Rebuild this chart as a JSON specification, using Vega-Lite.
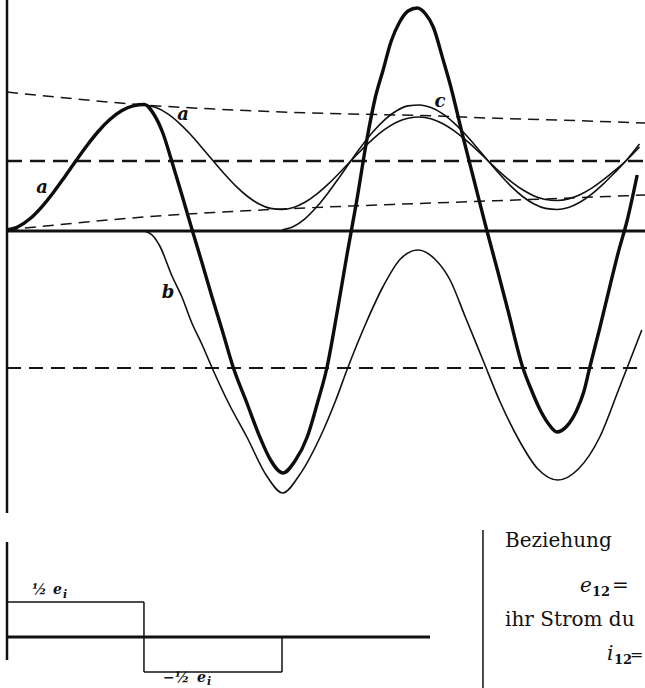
{
  "$schema": "https://vega.github.io/schema/vega-lite/v6.json",
  "width": 645,
  "height": 688,
  "padding": 0,
  "autosize": {"type": "none"},
  "background": "white",
  "config": {"view": {"stroke": null}},
  "datasets": {
    "curves": [
      {"s": "thick", "t": 0, "v": 1}, {"s": "thick", "t": 15, "v": 4.5}, {"s": "thick", "t": 30, "v": 12.2}, {"s": "thick", "t": 45, "v": 23.7},
      {"s": "thick", "t": 60, "v": 37.8}, {"s": "thick", "t": 75, "v": 53.6}, {"s": "thick", "t": 90, "v": 70}, {"s": "thick", "t": 105, "v": 85.8},
      {"s": "thick", "t": 120, "v": 100}, {"s": "thick", "t": 135, "v": 111.7}, {"s": "thick", "t": 150, "v": 120.2}, {"s": "thick", "t": 165, "v": 125.1},
      {"s": "thick", "t": 180, "v": 126.5}, {"s": "thick", "t": 192, "v": 117}, {"s": "thick", "t": 204, "v": 98}, {"s": "thick", "t": 216, "v": 69},
      {"s": "thick", "t": 229, "v": 36}, {"s": "thick", "t": 242, "v": 2}, {"s": "thick", "t": 255, "v": -31}, {"s": "thick", "t": 268, "v": -65},
      {"s": "thick", "t": 282, "v": -100}, {"s": "thick", "t": 296, "v": -136}, {"s": "thick", "t": 314, "v": -172}, {"s": "thick", "t": 331, "v": -206},
      {"s": "thick", "t": 345, "v": -229}, {"s": "thick", "t": 361, "v": -242}, {"s": "thick", "t": 377, "v": -230}, {"s": "thick", "t": 393, "v": -206},
      {"s": "thick", "t": 406, "v": -173}, {"s": "thick", "t": 419, "v": -136}, {"s": "thick", "t": 432, "v": -82}, {"s": "thick", "t": 445, "v": -24},
      {"s": "thick", "t": 458, "v": 31}, {"s": "thick", "t": 471, "v": 91}, {"s": "thick", "t": 482, "v": 133}, {"s": "thick", "t": 492, "v": 160},
      {"s": "thick", "t": 503, "v": 190}, {"s": "thick", "t": 514, "v": 209}, {"s": "thick", "t": 525, "v": 220}, {"s": "thick", "t": 537, "v": 223},
      {"s": "thick", "t": 548, "v": 217}, {"s": "thick", "t": 558, "v": 204}, {"s": "thick", "t": 571, "v": 171}, {"s": "thick", "t": 580, "v": 147},
      {"s": "thick", "t": 597, "v": 94}, {"s": "thick", "t": 612, "v": 49}, {"s": "thick", "t": 628, "v": 1}, {"s": "thick", "t": 642, "v": -39},
      {"s": "thick", "t": 656, "v": -80}, {"s": "thick", "t": 675, "v": -136}, {"s": "thick", "t": 687, "v": -160}, {"s": "thick", "t": 698, "v": -179},
      {"s": "thick", "t": 709, "v": -193}, {"s": "thick", "t": 720, "v": -201}, {"s": "thick", "t": 733, "v": -195}, {"s": "thick", "t": 746, "v": -179},
      {"s": "thick", "t": 755, "v": -161}, {"s": "thick", "t": 763, "v": -136}, {"s": "thick", "t": 776, "v": -97}, {"s": "thick", "t": 789, "v": -56},
      {"s": "thick", "t": 800, "v": -22}, {"s": "thick", "t": 812, "v": 11}, {"s": "thick", "t": 825, "v": 56},

      {"s": "a", "t": 165, "v": 125.1}, {"s": "a", "t": 180, "v": 126}, {"s": "a", "t": 195, "v": 123.4}, {"s": "a", "t": 210, "v": 117.4},
      {"s": "a", "t": 225, "v": 108.2}, {"s": "a", "t": 240, "v": 96.7}, {"s": "a", "t": 255, "v": 83.6}, {"s": "a", "t": 270, "v": 70},
      {"s": "a", "t": 285, "v": 56.7}, {"s": "a", "t": 300, "v": 44.6}, {"s": "a", "t": 315, "v": 34.5}, {"s": "a", "t": 330, "v": 27},
      {"s": "a", "t": 345, "v": 22.6}, {"s": "a", "t": 360, "v": 21.5}, {"s": "a", "t": 375, "v": 23.5}, {"s": "a", "t": 390, "v": 28.7},
      {"s": "a", "t": 405, "v": 36.6}, {"s": "a", "t": 420, "v": 46.6}, {"s": "a", "t": 435, "v": 58}, {"s": "a", "t": 450, "v": 70},
      {"s": "a", "t": 465, "v": 81.8}, {"s": "a", "t": 480, "v": 92.7}, {"s": "a", "t": 495, "v": 101.8}, {"s": "a", "t": 510, "v": 108.7},
      {"s": "a", "t": 525, "v": 112.8}, {"s": "a", "t": 540, "v": 114}, {"s": "a", "t": 555, "v": 112.2}, {"s": "a", "t": 570, "v": 107.5},
      {"s": "a", "t": 585, "v": 100.4}, {"s": "a", "t": 600, "v": 91.3}, {"s": "a", "t": 615, "v": 81}, {"s": "a", "t": 630, "v": 70},
      {"s": "a", "t": 645, "v": 59.2}, {"s": "a", "t": 660, "v": 49.4}, {"s": "a", "t": 675, "v": 41.2}, {"s": "a", "t": 690, "v": 35.1},
      {"s": "a", "t": 705, "v": 31.5}, {"s": "a", "t": 720, "v": 30.5}, {"s": "a", "t": 735, "v": 32.1}, {"s": "a", "t": 750, "v": 36.3},
      {"s": "a", "t": 765, "v": 42.6}, {"s": "a", "t": 780, "v": 50.8}, {"s": "a", "t": 795, "v": 60.1}, {"s": "a", "t": 810, "v": 70},
      {"s": "a", "t": 828, "v": 84},

      {"s": "c", "t": 360, "v": 1}, {"s": "c", "t": 375, "v": 4.5}, {"s": "c", "t": 390, "v": 12.2}, {"s": "c", "t": 405, "v": 23.7},
      {"s": "c", "t": 420, "v": 37.8}, {"s": "c", "t": 435, "v": 53.6}, {"s": "c", "t": 450, "v": 70}, {"s": "c", "t": 465, "v": 85.8},
      {"s": "c", "t": 480, "v": 100}, {"s": "c", "t": 495, "v": 111.7}, {"s": "c", "t": 510, "v": 120.2}, {"s": "c", "t": 525, "v": 125.1},
      {"s": "c", "t": 540, "v": 126}, {"s": "c", "t": 555, "v": 123.4}, {"s": "c", "t": 570, "v": 117.4}, {"s": "c", "t": 585, "v": 108.2},
      {"s": "c", "t": 600, "v": 96.7}, {"s": "c", "t": 615, "v": 83.6}, {"s": "c", "t": 630, "v": 70}, {"s": "c", "t": 645, "v": 56.7},
      {"s": "c", "t": 660, "v": 44.6}, {"s": "c", "t": 675, "v": 34.5}, {"s": "c", "t": 690, "v": 27}, {"s": "c", "t": 705, "v": 22.6},
      {"s": "c", "t": 720, "v": 21.5}, {"s": "c", "t": 735, "v": 23.5}, {"s": "c", "t": 750, "v": 28.7}, {"s": "c", "t": 765, "v": 36.6},
      {"s": "c", "t": 780, "v": 46.6}, {"s": "c", "t": 795, "v": 58}, {"s": "c", "t": 810, "v": 70}, {"s": "c", "t": 828, "v": 87},

      {"s": "b", "t": 180, "v": 0}, {"s": "b", "t": 190, "v": -4}, {"s": "b", "t": 200, "v": -15}, {"s": "b", "t": 216, "v": -45},
      {"s": "b", "t": 229, "v": -66}, {"s": "b", "t": 242, "v": -92}, {"s": "b", "t": 255, "v": -113}, {"s": "b", "t": 268, "v": -136},
      {"s": "b", "t": 290, "v": -172}, {"s": "b", "t": 314, "v": -206}, {"s": "b", "t": 340, "v": -245}, {"s": "b", "t": 361, "v": -262},
      {"s": "b", "t": 382, "v": -245}, {"s": "b", "t": 410, "v": -206}, {"s": "b", "t": 430, "v": -170}, {"s": "b", "t": 446, "v": -137},
      {"s": "b", "t": 470, "v": -92}, {"s": "b", "t": 492, "v": -56}, {"s": "b", "t": 515, "v": -28}, {"s": "b", "t": 538, "v": -19},
      {"s": "b", "t": 560, "v": -28}, {"s": "b", "t": 580, "v": -49}, {"s": "b", "t": 600, "v": -86}, {"s": "b", "t": 623, "v": -129},
      {"s": "b", "t": 645, "v": -170}, {"s": "b", "t": 668, "v": -206}, {"s": "b", "t": 695, "v": -238}, {"s": "b", "t": 721, "v": -249},
      {"s": "b", "t": 748, "v": -238}, {"s": "b", "t": 776, "v": -206}, {"s": "b", "t": 800, "v": -160}, {"s": "b", "t": 831, "v": -99}
    ],
    "guides": [
      {"g": "upper", "t": 0, "v": 139}, {"g": "upper", "t": 90, "v": 132}, {"g": "upper", "t": 180, "v": 126}, {"g": "upper", "t": 270, "v": 122},
      {"g": "upper", "t": 360, "v": 119}, {"g": "upper", "t": 450, "v": 117}, {"g": "upper", "t": 540, "v": 115.5}, {"g": "upper", "t": 630, "v": 113},
      {"g": "upper", "t": 720, "v": 111}, {"g": "upper", "t": 835.2, "v": 108},
      {"g": "lower", "t": 0, "v": 1}, {"g": "lower", "t": 90, "v": 8}, {"g": "lower", "t": 180, "v": 14}, {"g": "lower", "t": 270, "v": 18.5},
      {"g": "lower", "t": 360, "v": 22}, {"g": "lower", "t": 450, "v": 25}, {"g": "lower", "t": 540, "v": 27.5}, {"g": "lower", "t": 630, "v": 30},
      {"g": "lower", "t": 720, "v": 32.5}, {"g": "lower", "t": 835.2, "v": 36},
      {"g": "mid", "t": 0, "v": 70}, {"g": "mid", "t": 835.2, "v": 70},
      {"g": "neg", "t": 0, "v": -137}, {"g": "neg", "t": 835.2, "v": -137}
    ],
    "frame": [
      {"k": "heavy", "t": 0, "v": 0, "t2": 835.2, "v2": 0},
      {"k": "axis", "t": 0, "v": 231, "t2": 0, "v2": -282},
      {"k": "axis", "t": 0, "v": -311, "t2": 0, "v2": -429},
      {"k": "heavy", "t": 0, "v": -406, "t2": 553.8, "v2": -406},
      {"k": "light", "t": 0, "v": -371, "t2": 179.3, "v2": -371},
      {"k": "light", "t": 179.3, "v": -371, "t2": 179.3, "v2": -441},
      {"k": "light", "t": 179.3, "v": -441, "t2": 360, "v2": -441},
      {"k": "light", "t": 360, "v": -406, "t2": 360, "v2": -441},
      {"k": "light", "t": 623.1, "v": -299, "t2": 623.1, "v2": -457}
    ],
    "labels": [
      {"k": "curve", "text": "a", "t": 45.8, "v": 43},
      {"k": "curve", "text": "a", "t": 230.4, "v": 116},
      {"k": "curve", "text": "b", "t": 210.8, "v": -62},
      {"k": "curve", "text": "c", "t": 566.8, "v": 129},
      {"k": "fig", "text": "½", "t": 32.7, "v": -359},
      {"k": "fig", "text": "e", "t": 60.2, "v": -359},
      {"k": "figsub", "text": "i", "t": 73.3, "v": -364},
      {"k": "fig", "text": "−½", "t": 204.2, "v": -447},
      {"k": "fig", "text": "e", "t": 248.7, "v": -447},
      {"k": "figsub", "text": "i", "t": 261.8, "v": -451},
      {"k": "body", "text": "Beziehung", "t": 651.9, "v": -316},
      {"k": "bodyit", "text": "e", "t": 750.1, "v": -361},
      {"k": "bodysub", "text": "12", "t": 765.8, "v": -365},
      {"k": "body", "text": "=", "t": 792, "v": -361},
      {"k": "body", "text": "ihr Strom du", "t": 651.9, "v": -395},
      {"k": "bodyit", "text": "i", "t": 785.5, "v": -429},
      {"k": "bodysub", "text": "12", "t": 794.6, "v": -433},
      {"k": "bodysmall", "text": "=", "t": 815.5, "v": -429}
    ]
  },
  "encoding": {
    "x": {"field": "t", "type": "quantitative", "scale": {"domain": [-9.16, 835.2], "nice": false, "zero": false}, "axis": null},
    "y": {"field": "v", "type": "quantitative", "scale": {"domain": [-457, 231], "nice": false, "zero": false}, "axis": null}
  },
  "layer": [
    {
      "data": {"name": "guides"},
      "transform": [{"filter": "datum.g === 'upper' || datum.g === 'lower'"}],
      "mark": {"type": "line", "interpolate": "monotone", "color": "#151515", "strokeWidth": 1.5, "strokeDash": [11, 7]},
      "encoding": {"detail": {"field": "g"}}
    },
    {
      "data": {"name": "guides"},
      "transform": [{"filter": "datum.g === 'mid'"}],
      "mark": {"type": "line", "color": "#151515", "strokeWidth": 2.4, "strokeDash": [15, 8]},
      "encoding": {}
    },
    {
      "data": {"name": "guides"},
      "transform": [{"filter": "datum.g === 'neg'"}],
      "mark": {"type": "line", "color": "#151515", "strokeWidth": 2, "strokeDash": [14, 8]},
      "encoding": {}
    },
    {
      "data": {"name": "frame"},
      "transform": [{"filter": "datum.k === 'heavy'"}],
      "mark": {"type": "rule", "color": "#111", "strokeWidth": 3},
      "encoding": {"x2": {"field": "t2"}, "y2": {"field": "v2"}}
    },
    {
      "data": {"name": "frame"},
      "transform": [{"filter": "datum.k === 'axis'"}],
      "mark": {"type": "rule", "color": "#111", "strokeWidth": 2.5},
      "encoding": {"x2": {"field": "t2"}, "y2": {"field": "v2"}}
    },
    {
      "data": {"name": "frame"},
      "transform": [{"filter": "datum.k === 'light'"}],
      "mark": {"type": "rule", "color": "#111", "strokeWidth": 1.5},
      "encoding": {"x2": {"field": "t2"}, "y2": {"field": "v2"}}
    },
    {
      "data": {"name": "curves"},
      "transform": [{"filter": "datum.s === 'a' || datum.s === 'b' || datum.s === 'c'"}],
      "mark": {"type": "line", "interpolate": "monotone", "color": "#111", "strokeWidth": 1.6},
      "encoding": {"detail": {"field": "s"}}
    },
    {
      "data": {"name": "curves"},
      "transform": [{"filter": "datum.s === 'thick'"}],
      "mark": {"type": "line", "interpolate": "monotone", "color": "#0d0d0d", "strokeWidth": 3.4},
      "encoding": {}
    },
    {
      "data": {"name": "labels"},
      "transform": [{"filter": "datum.k === 'curve'"}],
      "mark": {"type": "text", "font": "DejaVu Serif", "fontStyle": "italic", "fontWeight": "bold", "fontSize": 18, "align": "center", "baseline": "middle", "color": "#111"},
      "encoding": {"text": {"field": "text"}}
    },
    {
      "data": {"name": "labels"},
      "transform": [{"filter": "datum.k === 'fig'"}],
      "mark": {"type": "text", "font": "DejaVu Serif", "fontStyle": "italic", "fontWeight": "bold", "fontSize": 14, "align": "left", "baseline": "middle", "color": "#111"},
      "encoding": {"text": {"field": "text"}}
    },
    {
      "data": {"name": "labels"},
      "transform": [{"filter": "datum.k === 'figsub'"}],
      "mark": {"type": "text", "font": "DejaVu Serif", "fontStyle": "italic", "fontWeight": "bold", "fontSize": 11, "align": "left", "baseline": "middle", "color": "#111"},
      "encoding": {"text": {"field": "text"}}
    },
    {
      "data": {"name": "labels"},
      "transform": [{"filter": "datum.k === 'body'"}],
      "mark": {"type": "text", "font": "DejaVu Serif", "fontSize": 20, "align": "left", "baseline": "alphabetic", "color": "#111"},
      "encoding": {"text": {"field": "text"}}
    },
    {
      "data": {"name": "labels"},
      "transform": [{"filter": "datum.k === 'bodysmall'"}],
      "mark": {"type": "text", "font": "DejaVu Serif", "fontSize": 16, "align": "left", "baseline": "alphabetic", "color": "#111"},
      "encoding": {"text": {"field": "text"}}
    },
    {
      "data": {"name": "labels"},
      "transform": [{"filter": "datum.k === 'bodyit'"}],
      "mark": {"type": "text", "font": "DejaVu Serif", "fontStyle": "italic", "fontSize": 20, "align": "left", "baseline": "alphabetic", "color": "#111"},
      "encoding": {"text": {"field": "text"}}
    },
    {
      "data": {"name": "labels"},
      "transform": [{"filter": "datum.k === 'bodysub'"}],
      "mark": {"type": "text", "font": "DejaVu Serif", "fontWeight": "bold", "fontSize": 13, "align": "left", "baseline": "alphabetic", "color": "#111"},
      "encoding": {"text": {"field": "text"}}
    }
  ]
}
